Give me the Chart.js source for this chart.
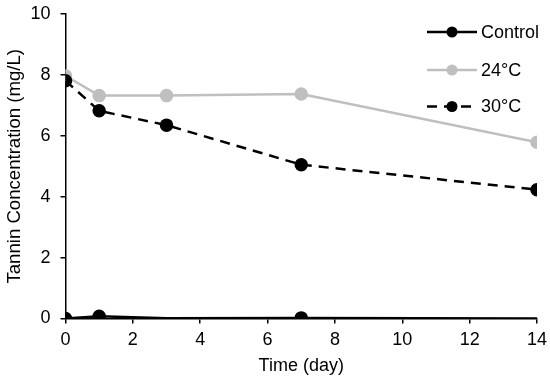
<!DOCTYPE html>
<html><head><meta charset="utf-8">
<script src="https://cdn.jsdelivr.net/npm/chart.js@4/dist/chart.umd.min.js"></script>
<style>html,body{margin:0;padding:0;background:#fff}#w{width:550px;height:380px}</style>
</head><body><div id="w"><canvas id="c"></canvas></div>
<script>
const days = [0, 1, 3, 7, 14];
const control = [0, 0.07, 0.01, 0.02, 0];
const t24 = [7.97, 7.32, 7.32, 7.37, 5.79];
const t30 = [7.81, 6.82, 6.35, 5.05, 4.23];
const seriesNames = ['Control', '24°C', '30°C'];
const xTicks = [0, 2, 4, 6, 8, 10, 12, 14];
const yTicks = [0, 2, 4, 6, 8, 10];

const FONT = '"Liberation Sans", Arial, sans-serif';
const pts = arr => arr.map((v, i) => ({x: days[i], y: v}));

const legendPlugin = {
  id: 'lineLegend',
  afterDraw(chart) {
    const ctx = chart.ctx;
    const ys = [32, 70, 106.5];
    chart.data.datasets.forEach((ds, i) => {
      const y = ys[i];
      ctx.save();
      ctx.strokeStyle = ds.borderColor;
      ctx.lineWidth = ds.borderWidth;
      ctx.setLineDash(ds.borderDash || []);
      ctx.beginPath(); ctx.moveTo(427, y); ctx.lineTo(477, y); ctx.stroke();
      ctx.setLineDash([]);
      ctx.fillStyle = ds.pointBackgroundColor;
      ctx.beginPath(); ctx.arc(452, y, 5.5, 0, Math.PI * 2); ctx.fill();
      ctx.fillStyle = '#000';
      ctx.font = '18px ' + FONT;
      ctx.textBaseline = 'middle';
      ctx.textAlign = 'left';
      ctx.fillText(ds.label, 481, y + 1);
      ctx.restore();
    });
  }
};

new Chart(document.getElementById('c'), {
  type: 'line',
  data: {
    datasets: [
      {label: seriesNames[0], data: pts(control), borderColor: '#000', backgroundColor: '#000',
       pointBackgroundColor: '#000', pointBorderColor: '#000', borderWidth: 2.5,
       pointRadius: [5.5, 5.5, 0, 5.5, 0], order: 3},
      {label: seriesNames[1], data: pts(t24), borderColor: '#BFBFBF', backgroundColor: '#BFBFBF',
       pointBackgroundColor: '#BFBFBF', pointBorderColor: '#BFBFBF', borderWidth: 2.5,
       pointRadius: 5.5, order: 2},
      {label: seriesNames[2], data: pts(t30), borderColor: '#000', backgroundColor: '#000',
       pointBackgroundColor: '#000', pointBorderColor: '#000', borderWidth: 2.5,
       borderDash: [10, 7], pointRadius: 5.5, order: 1}
    ]
  },
  options: {
    responsive: true, maintainAspectRatio: false, animation: false,
    layout: {padding: {top: 14, right: 13, left: 0, bottom: 0}},
    plugins: {legend: {display: false}, tooltip: {enabled: false}},
    scales: {
      x: {
        type: 'linear', min: 0, max: 14,
        afterBuildTicks: s => { s.ticks = xTicks.map(v => ({value: v})); },
        afterFit: s => { s.height = 61.5; s.paddingLeft = 0; s.paddingRight = 0; },
        grid: {drawOnChartArea: false, drawTicks: true, tickLength: 5, color: '#000', lineWidth: 1.5},
        border: {display: true, color: '#000', width: 1.5},
        ticks: {color: '#000', font: {family: FONT, size: 18}, padding: 6, maxRotation: 0},
        title: {display: true, text: 'Time (day)', color: '#000', font: {family: FONT, size: 18}, padding: {top: 0, bottom: 3}}
      },
      y: {
        type: 'linear', min: 0, max: 10,
        afterBuildTicks: s => { s.ticks = yTicks.map(v => ({value: v})); },
        afterFit: s => { s.width = 65.5; s.paddingTop = 0; s.paddingBottom = 0; },
        grid: {drawOnChartArea: false, drawTicks: true, tickLength: 5, color: '#000', lineWidth: 1.5},
        border: {display: true, color: '#000', width: 1.5},
        ticks: {color: '#000', font: {family: FONT, size: 18}, padding: 10},
        title: {display: true, text: 'Tannin Concentration (mg/L)', color: '#000', font: {family: FONT, size: 18.6}, padding: {top: 4, bottom: 0}}
      }
    }
  },
  plugins: [legendPlugin]
});
</script></body></html>
